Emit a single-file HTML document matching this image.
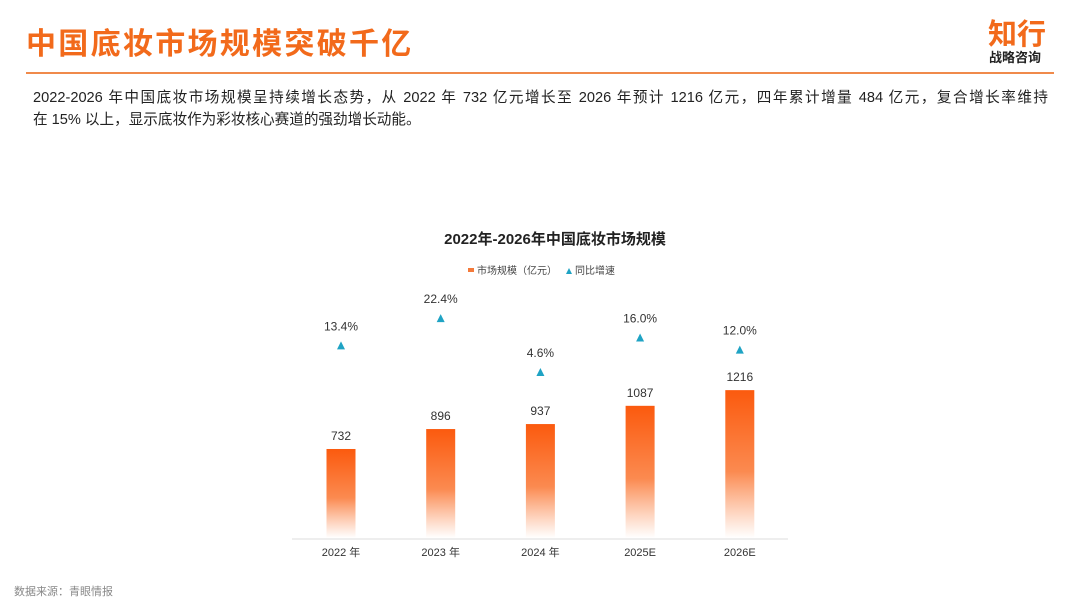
<!DOCTYPE html>
<html><head><meta charset="utf-8"><style>
body{margin:0;width:1080px;height:608px;background:#fff;font-family:"Liberation Sans","Noto Sans CJK SC",sans-serif;position:relative;overflow:hidden}
.a{position:absolute}
</style></head><body>
<div class="a" style="left:26px;top:19px;font-size:30px;font-weight:bold;color:#f26a1b;letter-spacing:2.3px">中国底妆市场规模突破千亿</div>
<div class="a" style="left:988px;top:11px;font-size:29px;font-weight:bold;color:#f26a1b">知行</div>
<div class="a" style="left:989px;top:47px;font-size:13px;font-weight:bold;color:#222">战略咨询</div>
<div class="a" style="left:26px;top:72px;width:1028px;height:2px;background:#f08a4b"></div>
<div class="a" style="left:33px;top:87px;width:1015px;font-size:14.6px;line-height:22px;color:#222">
<div style="text-align:justify;text-align-last:justify;white-space:nowrap">2022-2026 年中国底妆市场规模呈持续增长态势，从 2022 年 732 亿元增长至 2026 年预计 1216 亿元，四年累计增量 484 亿元，复合增长率维持</div>
<div>在 15% 以上，显示底妆作为彩妆核心赛道的强劲增长动能。</div>
</div>
<div class="a" style="left:14px;top:583px;font-size:11px;color:#888">数据来源：青眼情报</div>
<svg class="a" style="left:0;top:0" width="1080" height="608">
<defs><linearGradient id="g" x1="0" y1="0" x2="0" y2="1"><stop offset="0" stop-color="#fb5a0e"/><stop offset="0.55" stop-color="#fb8a50"/><stop offset="1" stop-color="#fff" stop-opacity="0.9"/></linearGradient></defs>
<text x="555" y="244" text-anchor="middle" font-size="15" font-weight="bold" fill="#222">2022年-2026年中国底妆市场规模</text>
<rect x="468" y="268" width="6" height="4" fill="#f47a3a"/>
<text x="477" y="274" font-size="10" fill="#444">市场规模（亿元）</text>
<path d="M566,274 L569,268 L572,274Z" fill="#1fa3c4"/>
<text x="575" y="274" font-size="10" fill="#444">同比增速</text>
<line x1="292" y1="539" x2="788" y2="539" stroke="#ddd"/>
<g id="marks"></g>
</svg>
<script>
const categories=["2022 年","2023 年","2024 年","2025E","2026E"];
const sizes=[732,896,937,1087,1216];
const growth=[13.4,22.4,4.6,16.0,12.0];
const NS="http://www.w3.org/2000/svg";
const g=document.getElementById('marks');
const xs=i=>341+i*99.7;
const ys=v=>538-v*0.1216;
const yg=v=>386-v*3.03;
function mk(t,a){const e=document.createElementNS(NS,t);for(const k in a)e.setAttribute(k,a[k]);g.appendChild(e);return e;}
categories.forEach((c,i)=>{
 const x=xs(i),y=ys(sizes[i]);
 const r=mk('rect',{x:x-14.5,y:y,width:29,height:538-y,fill:'url(#g)'});
 
 
 const t=mk('text',{x:x,y:y-9,'text-anchor':'middle','font-size':12,fill:'#333'});t.textContent=sizes[i];
 
 
 const gy=yg(growth[i]);
 const p=mk('path',{d:`M${x-4},${gy+4} L${x},${gy-4} L${x+4},${gy+4}Z`,fill:'#1fa3c4'});
 
 
 const gt=mk('text',{x:x,y:gy-15,'text-anchor':'middle','font-size':12,fill:'#333'});gt.textContent=growth[i].toFixed(1)+'%';
 
 
 const xt=mk('text',{x:x,y:556,'text-anchor':'middle','font-size':11,fill:'#333'});xt.textContent=c;
 
 
});
</script>
</body></html>
